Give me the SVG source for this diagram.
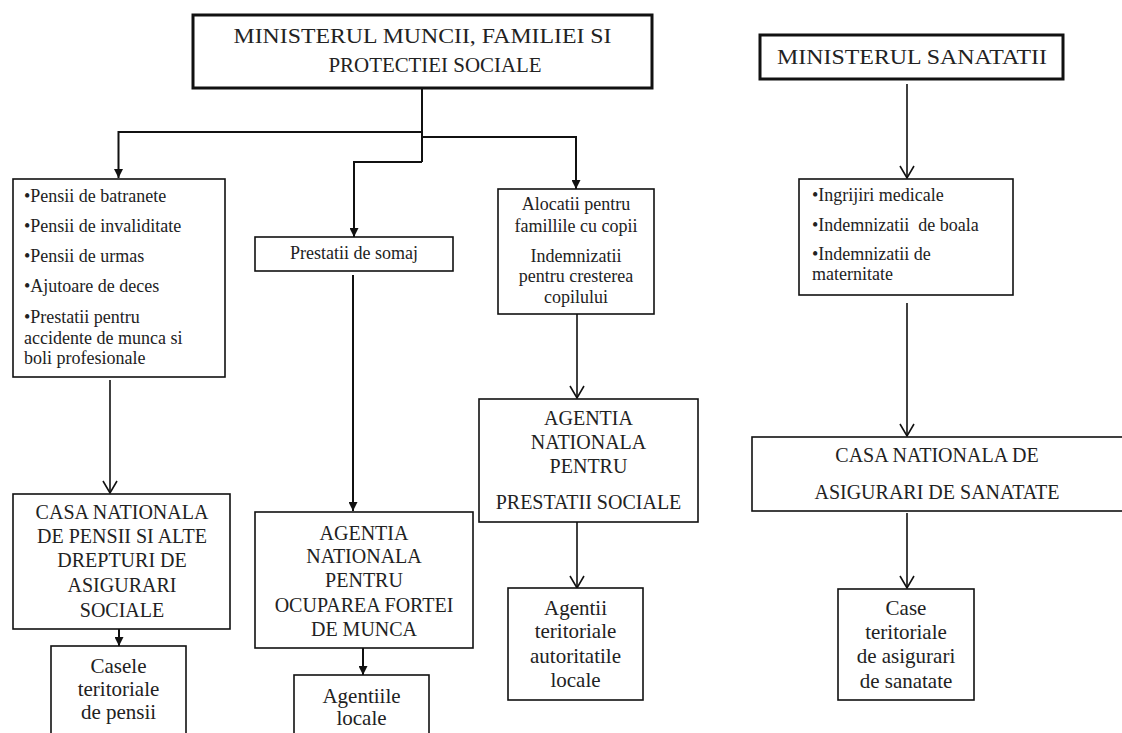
<svg xmlns="http://www.w3.org/2000/svg" width="1122" height="733" viewBox="0 0 1122 733">
<style>
  .box{fill:#fff;stroke:#111;stroke-width:1.6}
  .bold{fill:#fff;stroke:#111;stroke-width:3}
  .t{font-family:"Liberation Serif","Times New Roman",serif;fill:#222}
  .s{font-size:18px}
  .m{font-size:20px}
  .l{font-size:21px}
  .c{text-anchor:middle}
  .cf{fill:none;stroke:#111;stroke-width:2}
  .co{fill:none;stroke:#111;stroke-width:1.6}
</style>
<defs>
  <marker id="af" viewBox="0 0 10 10" refX="10" refY="5" markerWidth="10" markerHeight="9" markerUnits="userSpaceOnUse" orient="auto">
    <path d="M0,0 L10,5 L0,10 Z" fill="#111"/>
  </marker>
  <marker id="ao" viewBox="-1 -1 14 16" refX="12" refY="7" markerWidth="14" markerHeight="16" markerUnits="userSpaceOnUse" orient="auto" overflow="visible">
    <path d="M0,0 L12,7 L0,14" fill="none" stroke="#111" stroke-width="1.6"/>
  </marker>
</defs>
<rect width="1122" height="733" fill="#fff"/>

<g id="connectors">
  <path class="cf" d="M422,88 V162"/>
  <path class="cf" d="M422,132 H118.5 V178" marker-end="url(#af)"/>
  <path class="cf" d="M422,137 H576 V189" marker-end="url(#af)"/>
  <path class="cf" d="M422,162 H354 V237" marker-end="url(#af)"/>
  <path class="cf" d="M353,275 V511" marker-end="url(#af)"/>
  <path class="cf" d="M119,629 V646" marker-end="url(#af)"/>
  <path class="cf" d="M363,648 V675" marker-end="url(#af)"/>
  <path class="co" d="M907,84 V178" marker-end="url(#ao)"/>
  <path class="co" d="M110,380 V493" marker-end="url(#ao)"/>
  <path class="co" d="M577,314 V398" marker-end="url(#ao)"/>
  <path class="co" d="M577,522 V588" marker-end="url(#ao)"/>
  <path class="co" d="M907,303 V436" marker-end="url(#ao)"/>
  <path class="co" d="M907,513 V588" marker-end="url(#ao)"/>
</g>

<g id="n-ministerul-muncii">
  <rect class="bold" x="193" y="15" width="459" height="73"/>
  <text class="t c" x="422.5" y="43" font-size="22" textLength="378" lengthAdjust="spacingAndGlyphs">MINISTERUL MUNCII, FAMILIEI SI</text>
  <text class="t c" x="435" y="72" font-size="22" textLength="213" lengthAdjust="spacingAndGlyphs">PROTECTIEI SOCIALE</text>
</g>

<g id="n-ministerul-sanatatii">
  <rect class="bold" x="760" y="35" width="303" height="44"/>
  <text class="t c" x="912" y="64" font-size="22" textLength="270" lengthAdjust="spacingAndGlyphs">MINISTERUL SANATATII</text>
</g>

<g id="n-pensii-list">
  <rect class="box" x="13" y="179" width="212" height="198"/>
  <text class="t s" x="24" y="202">•Pensii de batranete</text>
  <text class="t s" x="24" y="232">•Pensii de invaliditate</text>
  <text class="t s" x="24" y="262">•Pensii de urmas</text>
  <text class="t s" x="24" y="292">•Ajutoare de deces</text>
  <text class="t s" x="24" y="323">•Prestatii pentru</text>
  <text class="t s" x="24" y="344">accidente de munca si</text>
  <text class="t s" x="24" y="364">boli profesionale</text>
</g>

<g id="n-somaj">
  <rect class="box" x="255" y="237" width="198" height="34"/>
  <text class="t s c" x="354" y="259">Prestatii de somaj</text>
</g>

<g id="n-alocatii">
  <rect class="box" x="498" y="189" width="156" height="125"/>
  <text class="t s c" x="576" y="210">Alocatii pentru</text>
  <text class="t s c" x="576" y="232">famillile cu copii</text>
  <text class="t s c" x="576" y="262">Indemnizatii</text>
  <text class="t s c" x="576" y="282">pentru cresterea</text>
  <text class="t s c" x="576" y="303">copilului</text>
</g>

<g id="n-ingrijiri">
  <rect class="box" x="799" y="179" width="214" height="116"/>
  <text class="t s" x="812" y="201">•Ingrijiri medicale</text>
  <text class="t s" x="812" y="231" style="white-space:pre">•Indemnizatii  de boala</text>
  <text class="t s" x="812" y="260">•Indemnizatii de</text>
  <text class="t s" x="812" y="280">maternitate</text>
</g>

<g id="n-casa-pensii">
  <rect class="box" x="13" y="494" width="217" height="135"/>
  <text class="t m c" x="122" y="519">CASA NATIONALA</text>
  <text class="t m c" x="122" y="543">DE PENSII SI ALTE</text>
  <text class="t m c" x="122" y="567">DREPTURI DE</text>
  <text class="t m c" x="122" y="592">ASIGURARI</text>
  <text class="t m c" x="122" y="617">SOCIALE</text>
</g>

<g id="n-casele-teritoriale">
  <rect class="box" x="51" y="646" width="135" height="100"/>
  <text class="t l c" x="118.5" y="673">Casele</text>
  <text class="t l c" x="118.5" y="696">teritoriale</text>
  <text class="t l c" x="118.5" y="719">de pensii</text>
</g>

<g id="n-agentia-ocupare">
  <rect class="box" x="255" y="512" width="218" height="136"/>
  <text class="t m c" x="364" y="540">AGENTIA</text>
  <text class="t m c" x="364" y="563">NATIONALA</text>
  <text class="t m c" x="364" y="587">PENTRU</text>
  <text class="t m c" x="364" y="612">OCUPAREA FORTEI</text>
  <text class="t m c" x="364" y="636">DE MUNCA</text>
</g>

<g id="n-agentiile-locale">
  <rect class="box" x="294" y="675" width="135" height="80"/>
  <text class="t l c" x="361.5" y="703">Agentiile</text>
  <text class="t l c" x="361.5" y="725">locale</text>
</g>

<g id="n-agentia-prestatii">
  <rect class="box" x="479" y="399" width="219" height="123"/>
  <text class="t m c" x="588.5" y="425">AGENTIA</text>
  <text class="t m c" x="588.5" y="449">NATIONALA</text>
  <text class="t m c" x="588.5" y="473">PENTRU</text>
  <text class="t m c" x="588.5" y="509">PRESTATII SOCIALE</text>
</g>

<g id="n-agentii-teritoriale">
  <rect class="box" x="508" y="588" width="135" height="112"/>
  <text class="t l c" x="575.5" y="615">Agentii</text>
  <text class="t l c" x="575.5" y="638">teritoriale</text>
  <text class="t l c" x="575.5" y="663">autoritatile</text>
  <text class="t l c" x="575.5" y="687">locale</text>
</g>

<g id="n-casa-sanatate">
  <rect class="box" x="752" y="437" width="380" height="74"/>
  <text class="t m c" x="937" y="462">CASA NATIONALA DE</text>
  <text class="t m c" x="937" y="499">ASIGURARI DE SANATATE</text>
</g>

<g id="n-case-teritoriale">
  <rect class="box" x="838" y="589" width="136" height="111"/>
  <text class="t l c" x="906" y="615">Case</text>
  <text class="t l c" x="906" y="639">teritoriale</text>
  <text class="t l c" x="906" y="663">de asigurari</text>
  <text class="t l c" x="906" y="688">de sanatate</text>
</g>
</svg>
